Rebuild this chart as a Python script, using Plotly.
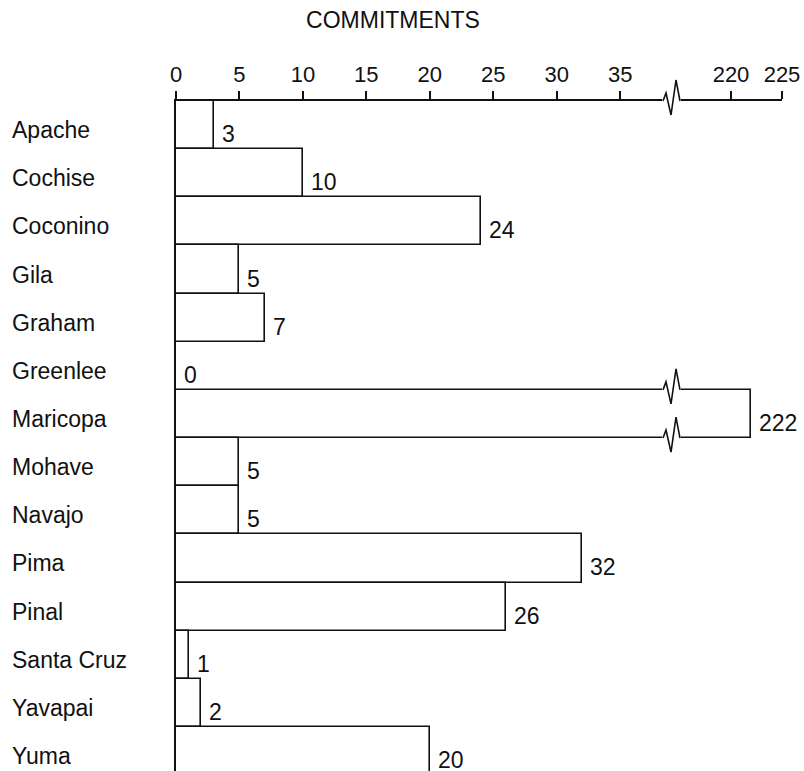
import plotly.graph_objects as go

# ---------------- data ----------------
counties = ["Apache", "Cochise", "Coconino", "Gila", "Graham", "Greenlee", "Maricopa",
            "Mohave", "Navajo", "Pima", "Pinal", "Santa Cruz", "Yavapai", "Yuma"]
commitments = [3, 10, 24, 5, 7, 0, 222, 5, 5, 32, 26, 1, 2, 20]
low_ticks = [0, 5, 10, 15, 20, 25, 30, 35]
high_ticks = [220, 225]
title_text = "COMMITMENTS"

# ---------------- geometry ----------------
W, H = 804, 771
L_PX, R_PX, T_PX = 176, 782, 101
BREAK_PX = 672
LOW_PX_PER_UNIT = 12.69
HIGH_PX_PER_UNIT = 10.2
ROW_PX = 48.15

plot_w = R_PX - L_PX
plot_h = H - T_PX
d_break = (BREAK_PX - L_PX) / plot_w
low_max = (BREAK_PX - L_PX) / LOW_PX_PER_UNIT
high_min = high_ticks[-1] - (R_PX - BREAK_PX) / HIGH_PX_PER_UNIT
y_bottom = -0.5 + plot_h / ROW_PX

FONT = "Liberation Sans, Arial, Helvetica, sans-serif"
LINE = "#111111"

fig = go.Figure()
bar_style = dict(orientation="h", width=1.0,
                 marker=dict(color="white", line=dict(color=LINE, width=1.6)),
                 showlegend=False, hoverinfo="skip")
fig.add_trace(go.Bar(x=commitments, y=counties, xaxis="x", yaxis="y", **bar_style))
fig.add_trace(go.Bar(x=commitments, y=counties, xaxis="x2", yaxis="y", **bar_style))

annotations = []
for c, v in zip(counties, commitments):
    # county names, left aligned
    annotations.append(dict(text=c, x=(10 - L_PX) / plot_w, xref="paper", y=c, yref="y",
                            xanchor="left", yanchor="middle", showarrow=False, yshift=-5,
                            font=dict(family=FONT, size=23, color=LINE)))
    # value labels
    annotations.append(dict(text=str(v), x=v, xref="x2" if v > low_max else "x", y=c, yref="y",
                            xanchor="left", yanchor="middle", showarrow=False,
                            xshift=6, yshift=-9,
                            font=dict(family=FONT, size=23, color=LINE)))

# break marks (zigzag) on axis and on the broken bar edges
zig = "M -9,0 L -6,8 L -1,-14 L 4,21 L 8,0"
mask = "M -10,0 L 9,0"
shapes = []
maricopa_idx = counties.index("Maricopa")
anchors = [("paper", 1.0)] + [("y", maricopa_idx - 0.5), ("y", maricopa_idx + 0.5)]
for yref, ya in anchors:
    for p, col, w in [(mask, "white", 4), (zig, LINE, 1.6)]:
        shapes.append(dict(type="path", path=p, xref="paper", xanchor=d_break,
                           xsizemode="pixel", yref=yref, yanchor=ya, ysizemode="pixel",
                           line=dict(color=col, width=w), layer="above"))

axis_common = dict(side="top", showline=True, linecolor=LINE, linewidth=1.6,
                   ticks="outside", ticklen=8, tickwidth=1.6, tickcolor=LINE,
                   showgrid=False, zeroline=False, anchor="y",
                   tickfont=dict(family=FONT, size=22, color=LINE))

fig.update_layout(
    width=W, height=H, autosize=False,
    margin=dict(l=L_PX, r=W - R_PX, t=T_PX, b=0, pad=0),
    paper_bgcolor="white", plot_bgcolor="white",
    barmode="overlay", bargap=0,
    title=dict(text=title_text, x=393 / W, y=1 - 20 / H, xref="container", yref="container",
               xanchor="center", yanchor="middle",
               font=dict(family=FONT, size=23, color=LINE)),
    xaxis=dict(domain=[0, d_break], range=[0, low_max], tickvals=low_ticks, **axis_common),
    xaxis2=dict(domain=[d_break, 1], range=[high_min, high_ticks[-1]], tickvals=high_ticks,
                **axis_common),
    yaxis=dict(type="category", categoryarray=counties, categoryorder="array",
               range=[y_bottom, -0.5], showline=True, linecolor=LINE, linewidth=1.6,
               showticklabels=False, ticks="", showgrid=False, zeroline=False),
    annotations=annotations, shapes=shapes,
)

fig.write_html("out.html", config={"displayModeBar": False},
               post_script="document.body.style.margin='0';document.body.style.overflow='hidden';")
